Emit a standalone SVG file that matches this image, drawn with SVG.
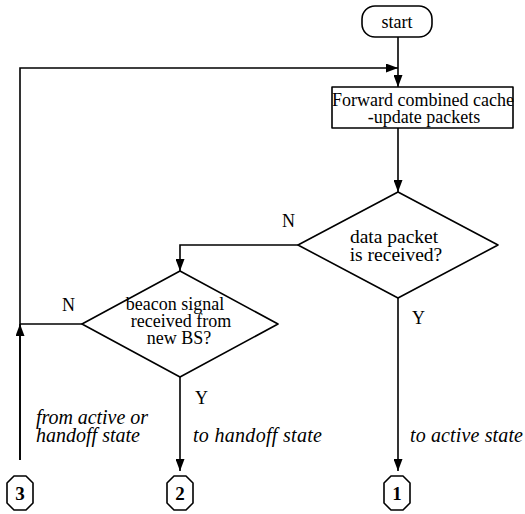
<svg xmlns="http://www.w3.org/2000/svg" width="525" height="514" viewBox="0 0 525 514">
<defs>
<marker id="ah" viewBox="0 0 12 10" refX="12" refY="5" markerWidth="12" markerHeight="9" markerUnits="userSpaceOnUse" orient="auto" preserveAspectRatio="none">
<path d="M0,0 L12,5 L0,10 Z" fill="#000"/>
</marker>
<path id="oct" d="M-6,-17 L6,-17 L13,-10 L13,10 L6,17 L-6,17 L-13,10 L-13,-10 Z"/>
</defs>
<style>
.s{fill:#fff;stroke:#000;stroke-width:1.6;stroke-linejoin:round}
.c{fill:none;stroke:#000;stroke-width:1.6}
.t{font-family:"Liberation Serif","Times New Roman",serif;font-size:18px;fill:#000}
.m{text-anchor:middle}
.i{font-style:italic;font-size:20px}
.b{font-weight:bold;font-size:19px}
.d{font-size:19.5px}
</style>
<rect width="525" height="514" fill="#fff"/>
<g id="connectors">
<line class="c" x1="398" y1="37" x2="398" y2="87" marker-end="url(#ah)"/>
<polyline class="c" points="20,460 20,68 398,68" marker-end="url(#ah)"/>
<line class="c" x1="20" y1="460" x2="20" y2="324" marker-end="url(#ah)"/>
<line class="c" x1="398" y1="128" x2="398" y2="192" marker-end="url(#ah)"/>
<polyline class="c" points="298,245 180,245 180,271" marker-end="url(#ah)"/>
<line class="c" x1="82" y1="324" x2="20" y2="324"/>
<line class="c" x1="180" y1="377" x2="180" y2="471" marker-end="url(#ah)"/>
<line class="c" x1="398" y1="298" x2="398" y2="471" marker-end="url(#ah)"/>
<text class="t" x="282" y="227">N</text>
<text class="t" x="62" y="311">N</text>
<text class="t" x="195" y="404">Y</text>
<text class="t" x="412" y="324">Y</text>
<text class="t i"><tspan x="36" y="424" textLength="112">from active or</tspan><tspan x="36" y="442" textLength="104">handoff state</tspan></text>
<text class="t i" x="193" y="442" textLength="129">to handoff state</text>
<text class="t i" x="410" y="442" textLength="113">to active state</text>
</g>
<g id="start">
<rect class="s" x="362" y="6" width="70" height="31" rx="13"/>
<text class="t m" x="397" y="28">start</text>
</g>
<g id="forward">
<rect class="s" x="332" y="87" width="181" height="41"/>
<text class="t m"><tspan x="423" y="106">Forward combined cache</tspan><tspan x="424" y="123">-update packets</tspan></text>
</g>
<g id="data">
<polygon class="s" points="398,192 498,245 398,298 298,245"/>
<text class="t m d"><tspan x="394" y="243">data packet</tspan><tspan x="396" y="261">is received?</tspan></text>
</g>
<g id="beacon">
<polygon class="s" points="180,271 278,324 180,377 82,324"/>
<text class="t m"><tspan x="175" y="310">beacon signal</tspan><tspan x="181" y="327">received from</tspan><tspan x="179" y="344">new BS?</tspan></text>
</g>
<g id="c3">
<use href="#oct" class="s" x="20" y="493"/>
<text class="t m b" x="20" y="500">3</text>
</g>
<g id="c2">
<use href="#oct" class="s" x="180" y="493"/>
<text class="t m b" x="180" y="500">2</text>
</g>
<g id="c1">
<use href="#oct" class="s" x="397" y="493"/>
<text class="t m b" x="397" y="500">1</text>
</g>
</svg>
